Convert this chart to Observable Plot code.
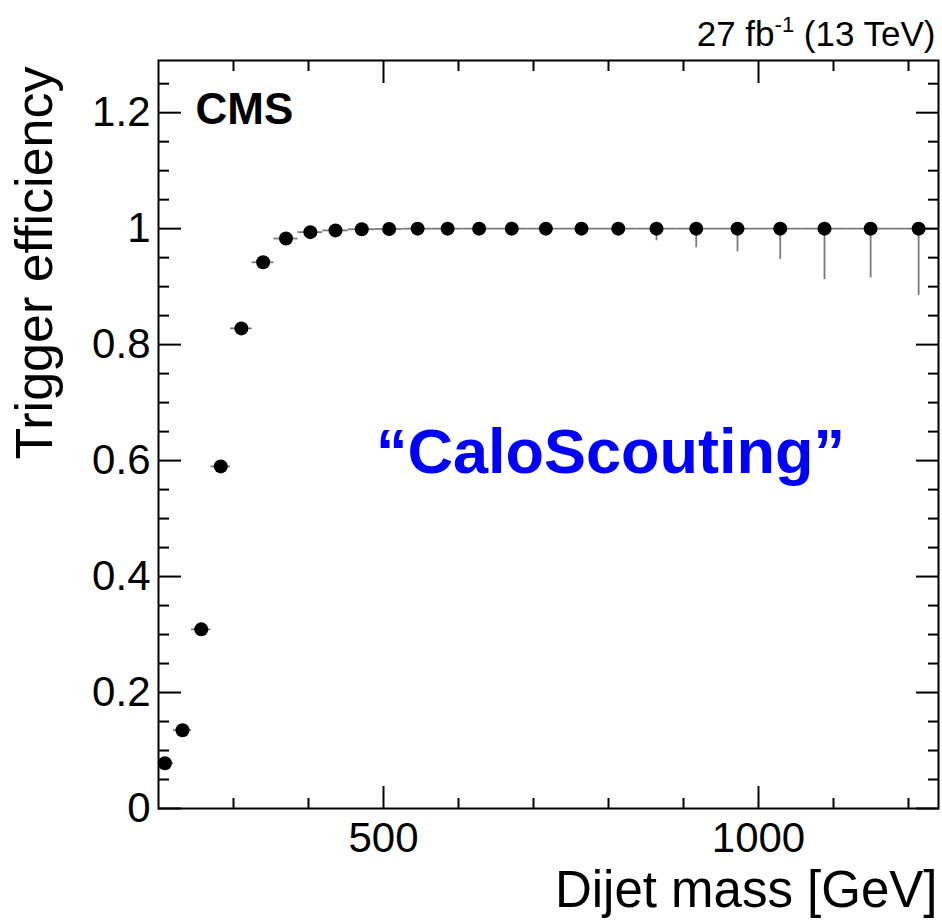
<!DOCTYPE html>
<html>
<head>
<meta charset="utf-8">
<script src="https://cdn.jsdelivr.net/npm/d3@7"></script>
<script src="https://cdn.jsdelivr.net/npm/@observablehq/plot@0.6"></script>
<style>
  html, body { margin: 0; padding: 0; background: #fff; }
</style>
</head>
<body>
<div id="chart"></div>
<script>
// Dijet mass bin edges [GeV]
const binLow  = [197, 220, 244, 270, 296, 325, 354, 386, 419, 453, 489, 526, 565, 606, 649, 693, 740, 788, 838, 890, 944, 1000, 1058, 1118, 1181];
const binHigh = [220, 244, 270, 296, 325, 354, 386, 419, 453, 489, 526, 565, 606, 649, 693, 740, 788, 838, 890, 944, 1000, 1058, 1118, 1181, 1246];
// Trigger efficiency per bin
const efficiency = [0.078, 0.135, 0.309, 0.590, 0.828, 0.942, 0.983, 0.994, 0.997, 0.999, 0.9995, 1, 1, 1, 1, 1, 1, 1, 1, 1, 1, 1, 1, 1, 1];
// Asymmetric uncertainties
const errLow  = [0.01, 0.01, 0.01, 0.01, 0.008, 0.006, 0.004, 0.003, 0.003, 0.002, 0.002, 0.002, 0.003, 0.004, 0.005, 0.007, 0.009, 0.012, 0.021, 0.033, 0.04, 0.053, 0.088, 0.085, 0.115];
const errHigh = [0.01, 0.01, 0.01, 0.01, 0.008, 0.006, 0.004, 0.003, 0.002, 0.001, 0.0005, 0, 0, 0, 0, 0, 0, 0, 0, 0, 0, 0, 0, 0, 0];

const yMajorTicks = [0, 0.2, 0.4, 0.6, 0.8, 1, 1.2];
const yMinorTicks = [0.05, 0.1, 0.15, 0.25, 0.3, 0.35, 0.45, 0.5, 0.55, 0.65, 0.7, 0.75, 0.85, 0.9, 0.95, 1.05, 1.1, 1.15, 1.25];
const xMajorTicks = [500, 1000];
const xMinorTicks = [300, 400, 600, 700, 800, 900, 1100, 1200];

const xDomain = [200, 1240];
const yDomain = [0, 1.29];

const xTitle = "Dijet mass [GeV]";
const yTitle = "Trigger efficiency";
const expLabel = "CMS";
const lumiLabel = "27 fb-1 (13 TeV)";
const triggerLabel = "\u201CCaloScouting\u201D";

const rows = binLow.map((lo, i) => ({
  lo, hi: binHigh[i], mid: (lo + binHigh[i]) / 2,
  eff: efficiency[i],
  yLo: efficiency[i] - errLow[i],
  yHi: efficiency[i] + errHigh[i]
}));

const font = "'Liberation Sans', Arial, Helvetica, sans-serif";
const tickStroke = {stroke: "black", strokeWidth: 2, fill: "none", label: null};

const plot = Plot.plot({
  width: 942,
  height: 923,
  marginLeft: 158,
  marginRight: 4,
  marginTop: 60,
  marginBottom: 115,
  style: {fontFamily: font, background: "white", color: "black", overflow: "visible"},
  x: {domain: xDomain},
  y: {domain: yDomain},
  marks: [
    // error bars
    Plot.ruleY(rows, {y: "eff", x1: "lo", x2: "hi", stroke: "#7a7a7a", strokeWidth: 1.8, clip: true}),
    Plot.ruleX(rows, {x: "mid", y1: "yLo", y2: "yHi", stroke: "#7a7a7a", strokeWidth: 1.8, clip: true}),
    Plot.dot(rows, {x: "mid", y: "eff", r: 7, fill: "black", stroke: "none"}),
    // inward ticks on all four sides
    Plot.axisY(yMajorTicks, {anchor: "left", tickSize: -23, ...tickStroke}),
    Plot.axisY(yMinorTicks, {anchor: "left", tickSize: -11, ...tickStroke}),
    Plot.axisY(yMajorTicks, {anchor: "right", tickSize: -23, ...tickStroke}),
    Plot.axisY(yMinorTicks, {anchor: "right", tickSize: -11, ...tickStroke}),
    Plot.axisX(xMajorTicks, {anchor: "bottom", tickSize: -22, ...tickStroke}),
    Plot.axisX(xMinorTicks, {anchor: "bottom", tickSize: -10, ...tickStroke}),
    Plot.axisX(xMajorTicks, {anchor: "top", tickSize: -22, ...tickStroke}),
    Plot.axisX(xMinorTicks, {anchor: "top", tickSize: -10, ...tickStroke}),
    // tick labels
    Plot.axisY(yMajorTicks, {anchor: "left", tickSize: 0, tickPadding: 8, fontSize: 42, label: null, tickFormat: d => String(d)}),
    Plot.axisX(xMajorTicks, {anchor: "bottom", tickSize: 0, tickPadding: 14, fontSize: 42, label: null, tickFormat: d => String(d)}),
    Plot.frame({stroke: "black", strokeWidth: 2}),
    // titles & annotations
    Plot.text([yTitle], {text: d => d, frameAnchor: "top-left", rotate: -90, textAnchor: "end", lineAnchor: "bottom", dx: -107, dy: 6, fontSize: 52, fill: "black"}),
    Plot.text([xTitle], {text: d => d, frameAnchor: "bottom-right", textAnchor: "end", lineAnchor: "bottom", dx: -1, dy: 98, fontSize: 51, fill: "black"}),
    Plot.text([expLabel], {text: d => d, frameAnchor: "top-left", textAnchor: "start", lineAnchor: "bottom", dx: 37, dy: 63, fontSize: 44, fontWeight: "bold", fill: "black"}),
    Plot.text([lumiLabel], {text: d => d, frameAnchor: "top-right", textAnchor: "end", lineAnchor: "bottom", dx: -3, dy: -15, fontSize: 35, fill: "black"}),
    Plot.text([triggerLabel], {text: d => d, frameAnchor: "top-left", textAnchor: "middle", lineAnchor: "bottom", dx: 452, dy: 412, fontSize: 63, fontWeight: "bold", fill: "#0000ff"})
  ]
});

document.getElementById("chart").appendChild(plot);

// render the "-1" of the luminosity label as a superscript
d3.select(plot).selectAll("text").filter(function () {
  return this.textContent === lumiLabel;
}).each(function () {
  const t = d3.select(this);
  const m = lumiLabel.match(/^(.*fb)(-1)(.*)$/);
  t.text(null);
  t.append("tspan").text(m[1]);
  t.append("tspan").attr("dy", -14).attr("font-size", 22).text(m[2]);
  t.append("tspan").attr("dy", 14).text(m[3]);
});
</script>
</body>
</html>
